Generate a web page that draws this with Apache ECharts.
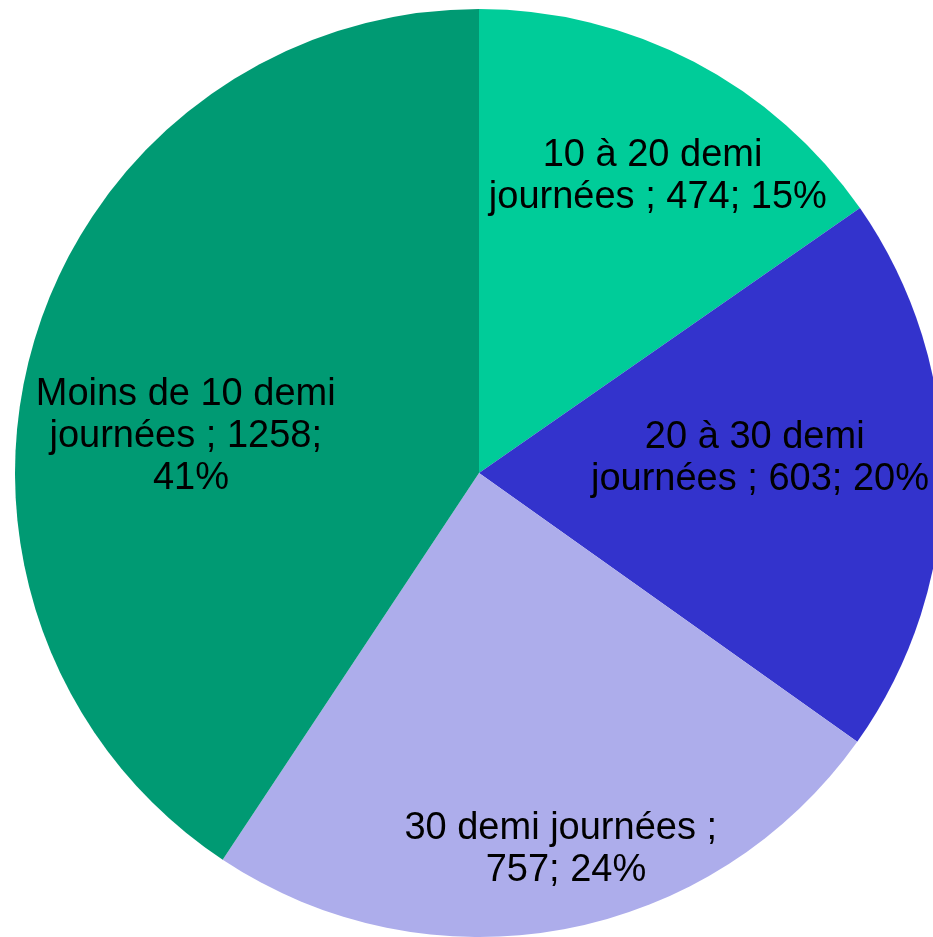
<!DOCTYPE html>
<html>
<head>
<meta charset="utf-8">
<script src="https://cdn.jsdelivr.net/npm/echarts@6/dist/echarts.min.js"></script>
<style>
  html, body { margin: 0; padding: 0; background: #fff; }
  #chart { width: 933px; height: 937px; }
</style>
</head>
<body>
<div id="chart"></div>
<script>
// données du graphique
var categories = ["10 à 20 demi journées", "20 à 30 demi journées", "30 demi journées", "Moins de 10 demi journées"];
var values = [474, 603, 757, 1258];
var percents = [15, 20, 24, 41];

var colors = ["#00CC99", "#3333CC", "#ADADEB", "#009A73"];
// décalage des étiquettes par rapport à la position "inside"
var labelOffsets = [[70, -88], [46, -16], [44, 145], [-63, 31]];
var labelWidths = [360, 360, 350, 325];

var chart = echarts.init(document.getElementById("chart"));

var option = {
  animation: false,
  series: [
    {
      type: "pie",
      center: [479, 473],
      radius: [0, 464],
      startAngle: 90,
      clockwise: true,
      avoidLabelOverlap: false,
      itemStyle: { borderWidth: 0 },
      emphasis: { disabled: true },
      label: {
        show: true,
        position: "inside",
        color: "#000",
        fontFamily: "Liberation Sans, Arial, sans-serif",
        fontSize: 38,
        lineHeight: 42,
        overflow: "break",
        formatter: function (p) {
          return p.name + " ; " + p.value + "; " + percents[p.dataIndex] + "%";
        }
      },
      labelLine: { show: false },
      data: categories.map(function (name, i) {
        return {
          name: name,
          value: values[i],
          itemStyle: { color: colors[i] },
          label: { offset: labelOffsets[i], width: labelWidths[i] }
        };
      })
    }
  ]
};

chart.setOption(option);
</script>
</body>
</html>
